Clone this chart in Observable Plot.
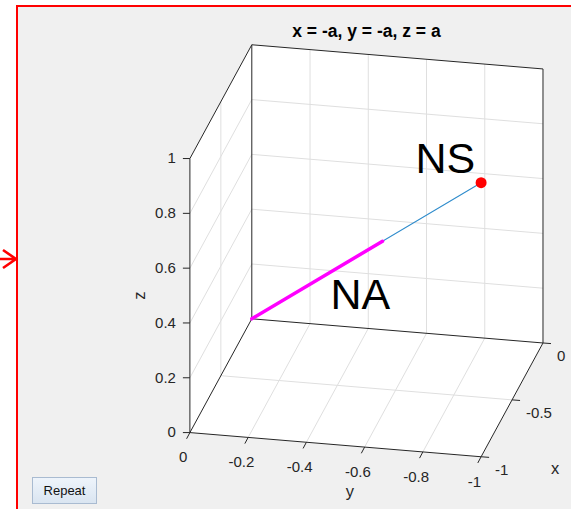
<!DOCTYPE html>
<html><head><meta charset="utf-8">
<script src="https://cdn.jsdelivr.net/npm/d3@7"></script>
<script src="https://cdn.jsdelivr.net/npm/@observablehq/plot@0.6"></script>
<style>
html,body{margin:0;padding:0;background:#ffffff;width:571px;height:509px;overflow:hidden;}
#frame{position:absolute;left:16px;top:5px;right:0;bottom:0;background:#f0f0f0;border-left:2px solid #ff0000;border-top:2px solid #ff0000;}
#chart{position:absolute;left:0;top:0;width:571px;height:509px;}
#arrow{position:absolute;left:0;top:245px;}
#repeat{position:absolute;left:32px;top:477px;width:63px;height:25px;border:1px solid #a9bbd1;background:linear-gradient(#eef4fb,#dae5f1);font:13px "Liberation Sans",Arial,sans-serif;color:#111;text-align:center;line-height:25px;}
</style></head><body>
<div id="frame"></div>
<svg id="arrow" width="20" height="30" viewBox="0 0 20 30"><path d="M0,14 L16,14 M3,5 L16,14 L3,23" fill="none" stroke="#ff0000" stroke-width="2.6"/></svg>
<div id="chart"></div>
<div id="repeat">Repeat</div>
<script>
// ---- data ----
const azimuth = -78;      // view azimuth (deg)
const elevation = 23;     // view elevation (deg)
const xLim = [-1, 0];
const yLim = [-1, 0];
const zLim = [0, 1];
const xTicks = [-1, -0.5, 0];
const xTickLabels = ["-1", "-0.5", "0"];
const yTicks = [0, -0.2, -0.4, -0.6, -0.8, -1];
const yTickLabels = ["0", "-0.2", "-0.4", "-0.6", "-0.8", "-1"];
const zTicks = [0, 0.2, 0.4, 0.6, 0.8, 1];
const zTickLabels = ["0", "0.2", "0.4", "0.6", "0.8", "1"];
const trajectoryA = [0, 1];     // blue line x=-a, y=-a, z=a
const naA = [0, 0.57];          // magenta segment
const nsA = [1];                // red end point
const textLabels = ["NS", "NA"];
const textA = [1, 0.57];
const titleText = "x = -a, y = -a, z = a";
const axisNames = ["x", "y", "z"];

// ---- projection (orthographic) ----
const az = azimuth * Math.PI / 180, el = elevation * Math.PI / 180;
function proj(x, y, z) {
  return {
    u: x * Math.cos(az) + y * Math.sin(az),
    v: (-x * Math.sin(az) + y * Math.cos(az)) * Math.sin(el) + z * Math.cos(el)
  };
}
const S = 297.7, OX = 251.3, OY = 318.3; // layout: pixels per unit, origin position
const px = d => d / S; // pixel length -> scale units
const pt = a => ({x: -a, y: -a, z: a});
const [x0, x1] = xLim, [y0, y1] = yLim, [z0, z1] = zLim;
const inner = (t, lim) => t.filter(v => v !== lim[0] && v !== lim[1]);

function seg(a, b, extra = {}) {
  const p = proj(...a), q = proj(...b);
  return {x1: p.u, y1: p.v, x2: q.u, y2: q.v, ...extra};
}

// walls (back planes)
const walls = [];
const addWall = (name, pts) => pts.forEach(p => { const q = proj(...p); walls.push({wall: name, u: q.u, v: q.v}); });
addWall("back", [[x1, y1, z0], [x1, y0, z0], [x1, y0, z1], [x1, y1, z1]]);
addWall("left", [[x0, y1, z0], [x1, y1, z0], [x1, y1, z1], [x0, y1, z1]]);
addWall("floor", [[x0, y1, z0], [x0, y0, z0], [x1, y0, z0], [x1, y1, z0]]);

// grid lines
const grid = [];
inner(yTicks, yLim).forEach(y => { grid.push(seg([x1, y, z0], [x1, y, z1])); grid.push(seg([x0, y, z0], [x1, y, z0])); });
inner(zTicks, zLim).forEach(z => { grid.push(seg([x1, y1, z], [x1, y0, z])); grid.push(seg([x0, y1, z], [x1, y1, z])); });
inner(xTicks, xLim).forEach(x => { grid.push(seg([x, y1, z0], [x, y1, z1])); grid.push(seg([x, y1, z0], [x, y0, z0])); });

// box edges
const edges = [
  seg([x1, y1, z1], [x1, y0, z1]), seg([x1, y0, z1], [x1, y0, z0]),
  seg([x1, y1, z0], [x1, y0, z0]), seg([x1, y1, z0], [x1, y1, z1]),
  seg([x0, y1, z1], [x1, y1, z1]), seg([x0, y1, z0], [x0, y1, z1]),
  seg([x0, y1, z0], [x1, y1, z0]), seg([x0, y1, z0], [x0, y0, z0]),
  seg([x0, y0, z0], [x1, y0, z0])
];

// ticks
const ticks = [];
zTicks.forEach(z => { const p = proj(x0, y1, z); ticks.push({x1: p.u, y1: p.v, x2: p.u - px(7), y2: p.v}); });
yTicks.forEach(y => { const p = proj(x0, y, z0); ticks.push({x1: p.u, y1: p.v, x2: p.u - px(3.3), y2: p.v - px(6.2)}); });
xTicks.forEach(x => { const p = proj(x, y0, z0); ticks.push({x1: p.u, y1: p.v, x2: p.u + px(8), y2: p.v - px(0.6)}); });

const zLab = zTicks.map((z, i) => ({...proj(x0, y1, z), t: zTickLabels[i]}));
const yLab = yTicks.map((y, i) => ({...proj(x0, y, z0), t: yTickLabels[i]}));
const xLab = xTicks.map((x, i) => ({...proj(x, y0, z0), t: xTickLabels[i]}));

const traj = trajectoryA.map(a => { const p = pt(a); return proj(p.x, p.y, p.z); });
const na = naA.map(a => { const p = pt(a); return proj(p.x, p.y, p.z); });
const ns = nsA.map(a => { const p = pt(a); return proj(p.x, p.y, p.z); });
const txt = textLabels.map((t, i) => { const p = pt(textA[i]); return {...proj(p.x, p.y, p.z), t}; });

const corners = [];
[x0, x1].forEach(x => [y0, y1].forEach(y => [z0, z1].forEach(z => corners.push(proj(x, y, z)))));
const uMin = d3.min(corners, d => d.u), uMax = d3.max(corners, d => d.u), vMax = d3.max(corners, d => d.v);

const font = "'Liberation Sans', Arial, Helvetica, sans-serif";
const tickColor = "#262626";

const chart = Plot.plot({
  width: 571, height: 509, margin: 0,
  style: {background: "transparent", overflow: "visible", fontFamily: font},
  x: {type: "linear", domain: [-1, 1], range: [OX - S, OX + S], axis: null},
  y: {type: "linear", domain: [-1, 1], range: [OY + S, OY - S], axis: null},
  marks: [
    Plot.line(walls, {x: "u", y: "v", z: "wall", fill: "#ffffff", stroke: "#ffffff", strokeWidth: 0.5}),
    Plot.link(grid, {x1: "x1", y1: "y1", x2: "x2", y2: "y2", stroke: "#dfdfdf", strokeWidth: 1}),
    Plot.link(edges, {x1: "x1", y1: "y1", x2: "x2", y2: "y2", stroke: tickColor, strokeWidth: 1}),
    Plot.link(ticks, {x1: "x1", y1: "y1", x2: "x2", y2: "y2", stroke: tickColor, strokeWidth: 1}),
    Plot.text(zLab, {x: "u", y: "v", text: "t", dx: -14, textAnchor: "end", lineAnchor: "middle", fontSize: 15, fill: tickColor}),
    Plot.text(yLab, {x: "u", y: "v", text: "t", dx: -6.7, dy: 25, textAnchor: "middle", lineAnchor: "middle", fontSize: 15, fill: tickColor}),
    Plot.text(xLab, {x: "u", y: "v", text: "t", dx: 14, dy: 13.5, textAnchor: "start", lineAnchor: "middle", fontSize: 15, fill: tickColor}),
    Plot.text([{...proj((x0 + x1) / 2, y0, z0), t: axisNames[0]}], {x: "u", y: "v", text: "t", dx: 43, dy: 69, lineAnchor: "middle", fontSize: 16.5, fill: tickColor}),
    Plot.text([{...proj(x0, (y0 + y1) / 2, z0), t: axisNames[1]}], {x: "u", y: "v", text: "t", dx: 14.3, dy: 47.5, lineAnchor: "middle", fontSize: 16.5, fill: tickColor}),
    Plot.text([{...proj(x0, y1, (z0 + z1) / 2), t: axisNames[2]}], {x: "u", y: "v", text: "t", dx: -50, rotate: -90, lineAnchor: "middle", fontSize: 16.5, fill: tickColor}),
    Plot.line(traj, {x: "u", y: "v", stroke: "#2f8ccc", strokeWidth: 1.1}),
    Plot.line(na, {x: "u", y: "v", stroke: "#ff00ff", strokeWidth: 3.5, strokeLinecap: "round"}),
    Plot.dot(ns, {x: "u", y: "v", r: 5.5, fill: "#ff0000", stroke: "none"}),
    Plot.text([txt[0]], {x: "u", y: "v", text: "t", dx: -65.6, dy: -9.5, textAnchor: "start", lineAnchor: "bottom", fontSize: 43, fill: "#000000"}),
    Plot.text([txt[1]], {x: "u", y: "v", text: "t", dx: -52, dy: 67.6, textAnchor: "start", lineAnchor: "bottom", fontSize: 43, fill: "#000000"}),
    Plot.text([{u: (uMin + uMax) / 2, v: vMax, t: titleText}], {x: "u", y: "v", text: "t", dy: -13.6, lineAnchor: "middle", fontSize: 17.5, fontWeight: "bold", fill: "#000000"})
  ]
});
document.getElementById("chart").appendChild(chart);
</script>
</body></html>
